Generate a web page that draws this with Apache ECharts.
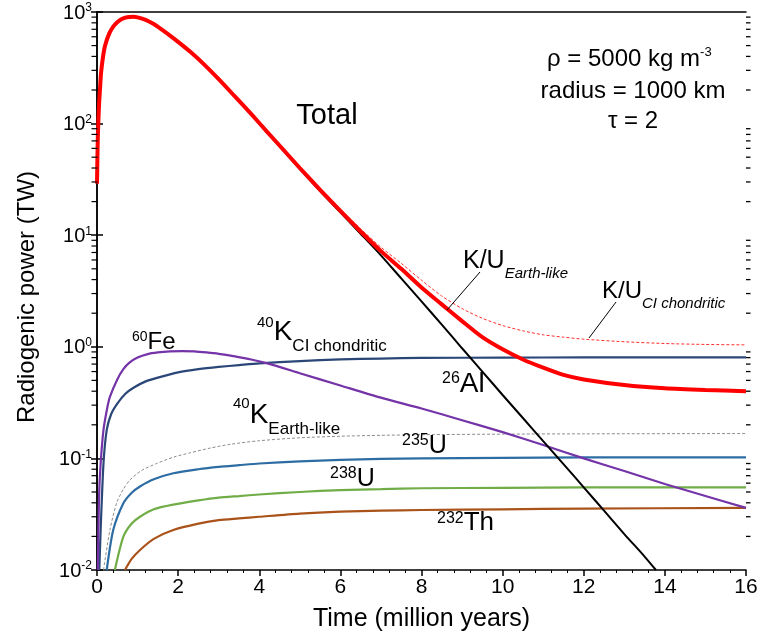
<!DOCTYPE html>
<html>
<head>
<meta charset="utf-8">
<script src="https://cdn.jsdelivr.net/npm/echarts@6/dist/echarts.min.js"></script>
<style>
  html, body { margin: 0; padding: 0; background: #fff; }
  #chartMain { width: 762px; height: 640px; }
</style>
</head>
<body>
<div id="chartMain"></div>
<script>
// values, [time (Myr), power (TW)]
var total = [[0,29],[0.02,75],[0.05,147],[0.075,207],[0.1,285],[0.15,400],[0.2,500],[0.3,640],[0.4,740],[0.5,810],[0.6,860],[0.7,890],[0.8,903],[0.9,905],[1.0,895],[1.2,850],[1.4,780],[1.6,695],[1.8,615],[2.0,540],[2.3,440],[2.6,350],[3.0,250],[3.4,175],[3.8,122],[4.2,84],[4.6,58],[5.0,40],[5.5,25.5],[6.0,16.5],[6.5,10.8],[7.0,7.2],[7.5,5.0],[8.0,3.4],[8.5,2.4],[9.0,1.7],[9.5,1.22],[10.0,0.95],[10.5,0.77],[11.0,0.65],[11.5,0.56],[12.0,0.51],[13.0,0.455],[14.0,0.425],[15.0,0.41],[16.0,0.40]];
var totalCI = [[5.0,40.6],[5.5,26.1],[6.0,17.1],[6.5,11.4],[7.0,7.8],[7.5,5.6],[8.0,3.95],[8.5,2.85],[9.0,2.2],[9.5,1.8],[10.0,1.55],[10.5,1.39],[11.0,1.28],[11.5,1.22],[12.0,1.17],[13.0,1.11],[14.0,1.07],[15.0,1.05],[16.0,1.04]];
var al26 = [[0,29],[0.02,75],[0.05,147],[0.075,207],[0.1,284],[0.15,399],[0.2,499],[0.3,639],[0.4,739],[0.5,809],[0.6,859],[0.7,889],[0.8,902],[0.9,904],[1.0,894],[1.2,849],[1.4,779],[1.6,694],[1.8,614],[2.0,539],[2.3,439],[2.6,349],[3.0,249],[3.4,174],[3.8,121],[4.2,83],[4.6,57],[5.0,39.2],[5.5,24.9],[6.0,16.0],[6.5,10.3],[7.0,6.6],[7.5,4.1],[8.0,2.55],[8.5,1.58],[9.0,0.97],[9.5,0.60],[10.0,0.37],[10.5,0.23],[11.0,0.143],[11.5,0.089],[12.0,0.055],[12.5,0.034],[13.0,0.021],[13.5,0.0132],[13.78,0.01]];
var fe60 = [[0.02,0.01],[0.05,0.045],[0.09,0.09],[0.16,0.18],[0.25,0.28],[0.32,0.357],[0.5,0.51],[0.65,0.63],[0.8,0.72],[1.0,0.80],[1.25,0.86],[1.5,0.89],[1.8,0.91],[2.1,0.916],[2.4,0.91],[2.7,0.89],[3.0,0.865],[3.4,0.82],[3.8,0.77],[4.2,0.71],[5.0,0.58],[6.0,0.45],[7.0,0.35],[8.0,0.28],[9.0,0.22],[10.0,0.172],[11.0,0.132],[12.0,0.10],[13.0,0.077],[14.0,0.059],[15.0,0.046],[16.0,0.036]];
var k40CI = [[0.057,0.01],[0.09,0.023],[0.16,0.09],[0.24,0.18],[0.35,0.25],[0.5,0.31],[0.7,0.38],[0.9,0.43],[1.2,0.49],[1.5,0.53],[2.0,0.59],[2.5,0.63],[3.0,0.66],[3.5,0.685],[4.0,0.71],[5.0,0.745],[6.0,0.77],[7.0,0.785],[8.0,0.795],[10.0,0.80],[12.0,0.803],[14.0,0.805],[16.0,0.805]];
var k40Earth = [[0.16,0.01],[0.32,0.023],[0.485,0.04],[0.65,0.053],[0.81,0.064],[1.1,0.078],[1.47,0.09],[1.9,0.103],[2.29,0.112],[2.8,0.124],[3.3,0.134],[4.0,0.144],[5.0,0.153],[6.0,0.158],[7.0,0.161],[8.0,0.163],[10.0,0.165],[12.0,0.166],[16.0,0.167]];
var u235 = [[0.24,0.01],[0.4,0.0228],[0.65,0.0396],[0.85,0.049],[1.06,0.056],[1.4,0.065],[1.88,0.0736],[2.5,0.08],[3.0,0.084],[3.5,0.087],[4.0,0.090],[5.0,0.094],[6.0,0.097],[7.0,0.099],[8.0,0.100],[10.0,0.101],[12.0,0.102],[16.0,0.102]];
var u238 = [[0.44,0.01],[0.65,0.0199],[0.85,0.026],[1.06,0.030],[1.4,0.035],[1.88,0.0385],[2.5,0.042],[3.0,0.0445],[3.5,0.046],[4.0,0.0475],[5.0,0.050],[6.0,0.052],[7.0,0.053],[8.0,0.054],[10.0,0.0545],[12.0,0.055],[16.0,0.055]];
var th232 = [[0.69,0.01],[0.85,0.0125],[1.06,0.0151],[1.4,0.019],[1.88,0.0228],[2.5,0.026],[3.0,0.028],[3.5,0.029],[4.0,0.030],[5.0,0.032],[6.0,0.0333],[7.0,0.034],[8.0,0.0345],[10.0,0.035],[12.0,0.0355],[16.0,0.036]];

// minor ticks of the log axis (2..9 in every decade)
var yMinorTicks = [0.02,0.03,0.04,0.05,0.06,0.07,0.08,0.09,
                   0.2,0.3,0.4,0.5,0.6,0.7,0.8,0.9,
                   2,3,4,5,6,7,8,9,
                   20,30,40,50,60,70,80,90,
                   200,300,400,500,600,700,800,900];

var FONT = '"Liberation Sans", Arial, sans-serif';

// text with super/subscripts: parts [{t, size, dy, italic}], dy = centre offset from main text
function richLabel(left, midY, parts) {
    var top = Infinity;
    parts.forEach(function (p) { top = Math.min(top, midY + (p.dy || 0) - p.size / 2); });
    var rich = {}, text = '';
    parts.forEach(function (p, i) {
        rich['p' + i] = {
            fontSize: p.size, lineHeight: p.size, fontFamily: FONT,
            fontStyle: p.italic ? 'italic' : 'normal', fill: '#000',
            verticalAlign: 'top',
            padding: [midY + (p.dy || 0) - p.size / 2 - top, 0, 0, 0]
        };
        text += '{p' + i + '|' + p.t + '}';
    });
    return {
        type: 'text', x: left, y: top, z: 100,
        style: { text: text, rich: rich, align: 'left', verticalAlign: 'top', fill: '#000' }
    };
}

function plainLabel(x, y, text, size) {
    return {
        type: 'text', x: x, y: y, z: 100,
        style: { text: text, fontSize: size, fontFamily: FONT, fill: '#000', align: 'center', verticalAlign: 'middle' }
    };
}

function leader(x1, y1, x2, y2) {
    return { type: 'line', z: 100, shape: { x1: x1, y1: y1, x2: x2, y2: y2 }, style: { stroke: '#000', lineWidth: 1 } };
}

function curve(name, data, color, width, dashed) {
    return {
        name: name, type: 'line', data: data,
        showSymbol: false, smooth: 0.25,
        lineStyle: { color: color, width: width, type: dashed ? [3, 2] : 'solid' },
        silent: true
    };
}

// minor y ticks: one item per value, drawn on both sides of the plot
var minorTickSeries = {
    type: 'custom', coordinateSystem: 'cartesian2d',
    clip: false, silent: true, z: 50,
    data: yMinorTicks.map(function (v) { return [8, v]; }),
    encode: { x: 0, y: 1 },
    renderItem: function (params, api) {
        var v = api.value(1);
        var l = api.coord([0, v]);
        var r = api.coord([16, v]);
        var st = { stroke: '#000', lineWidth: 1.3 };
        return {
            type: 'group', children: [
                { type: 'rect', shape: { x: l[0] - 5.5, y: l[1] - 0.6, width: 6, height: 1.2 }, style: { fill: '#000' } },
                { type: 'line', shape: { x1: r[0], y1: r[1], x2: r[0] + 4.5, y2: r[1] }, style: st }
            ]
        };
    }
};

var myChart = echarts.init(document.getElementById('chartMain'));
var axisLine = { show: true, lineStyle: { color: '#000', width: 1.5 } };

var option = {
    animation: false,
    backgroundColor: '#fff',
    grid: { left: 97, right: 16, top: 12, bottom: 70 },
    xAxis: [{
        type: 'value', position: 'bottom', min: 0, max: 16, interval: 2,
        axisLine: axisLine,
        axisTick: { show: true, length: 6, lineStyle: { color: '#000', width: 1.5 } },
        minorTick: { show: true, splitNumber: 5, length: 3, lineStyle: { color: '#000', width: 1 } },
        axisLabel: { fontSize: 21, color: '#000', fontFamily: FONT, margin: 7 },
        splitLine: { show: false },
        name: 'Time (million years)', nameLocation: 'middle', nameGap: 37,
        nameTextStyle: { fontSize: 25, color: '#000', fontFamily: FONT, verticalAlign: 'top' }
    }, {
        type: 'value', position: 'top', min: 0, max: 16,
        axisLine: axisLine, axisTick: { show: false }, axisLabel: { show: false }, splitLine: { show: false }
    }],
    yAxis: [{
        type: 'log', position: 'left', min: 0.01, max: 1000, logBase: 10,
        axisLine: axisLine,
        axisTick: { show: true, length: 6, lineStyle: { color: '#000', width: 1.5 } },
        axisLabel: {
            margin: 5, color: '#000',
            formatter: function (v) { return '{a|10}{b|' + Math.round(Math.log10(v)) + '}'; },
            rich: {
                a: { fontSize: 20, lineHeight: 20, fontFamily: FONT, color: '#000', verticalAlign: 'top', padding: [1, 0, 0, 0] },
                b: { fontSize: 12, lineHeight: 12, fontFamily: FONT, color: '#000', verticalAlign: 'top' }
            }
        },
        splitLine: { show: false }
    }, {
        type: 'log', position: 'right', min: 0.01, max: 1000, logBase: 10,
        axisLine: axisLine,
        axisTick: { show: true, length: 6, lineStyle: { color: '#000', width: 1.5 } },
        axisLabel: { show: false }, splitLine: { show: false }
    }],
    series: [
        minorTickSeries,
        curve('40K Earth-like', k40Earth, '#8c8c8c', 1, true),
        curve('232Th', th232, '#a9531a', 2.2),
        curve('238U', u238, '#70ad47', 2.2),
        curve('235U', u235, '#2e6da4', 2.2),
        curve('40K CI chondritic', k40CI, '#2b4778', 2.2),
        curve('60Fe', fe60, '#7434a8', 2.2),
        curve('26Al', al26, '#000000', 2),
        curve('Total CI', totalCI, '#ff3030', 1, true),
        curve('Total', total, '#ff0000', 4)
    ],
    graphic: [
        {
            type: 'text', x: 27, y: 297, rotation: Math.PI / 2, z: 100,
            style: { text: 'Radiogenic power (TW)', fontSize: 24, fontFamily: FONT, fill: '#000', align: 'center', verticalAlign: 'middle' }
        },
        plainLabel(327, 116, 'Total', 29),
        richLabel(547, 59, [{ t: 'ρ = 5000 kg m', size: 24 }, { t: '-3', size: 13, dy: -7 }]),
        plainLabel(633, 91, 'radius = 1000 km', 24),
        plainLabel(633, 121, 'τ = 2', 24),
        richLabel(463, 261, [{ t: 'K/U', size: 25 }, { t: 'Earth-like', size: 15, dy: 12.5, italic: true }]),
        leader(480, 272, 447, 310),
        richLabel(602, 291, [{ t: 'K/U', size: 24 }, { t: 'CI chondritic', size: 15, dy: 12.5, italic: true }]),
        leader(616, 302, 589, 338),
        richLabel(132, 342, [{ t: '60', size: 14, dy: -5 }, { t: 'Fe', size: 24 }]),
        richLabel(257, 332, [{ t: '40', size: 15, dy: -9 }, { t: 'K', size: 28 }, { t: 'CI chondritic', size: 17, dy: 14.5 }]),
        richLabel(233, 415, [{ t: '40', size: 15, dy: -11 }, { t: 'K', size: 28 }, { t: 'Earth-like', size: 17, dy: 14 }]),
        richLabel(442, 384, [{ t: '26', size: 16, dy: -5 }, { t: 'Al', size: 28 }]),
        richLabel(402, 446, [{ t: '235', size: 16, dy: -5 }, { t: 'U', size: 25 }]),
        richLabel(330, 479, [{ t: '238', size: 16, dy: -5 }, { t: 'U', size: 25 }]),
        richLabel(437, 523, [{ t: '232', size: 16, dy: -4 }, { t: 'Th', size: 26 }])
    ]
};
myChart.setOption(option, true);
</script>
</body>
</html>
